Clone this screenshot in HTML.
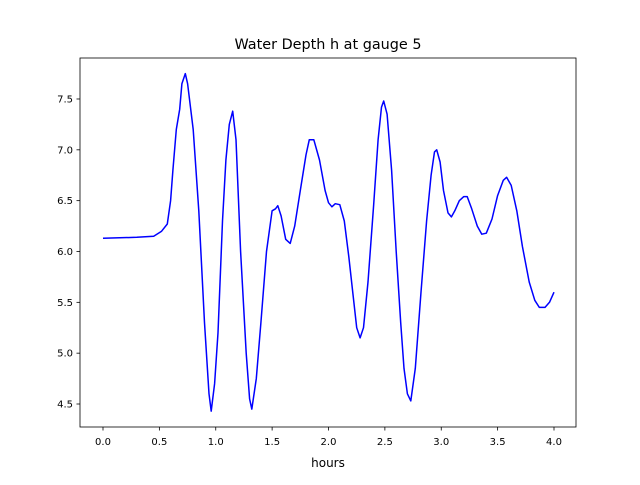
<!DOCTYPE html>
<html><head><meta charset="utf-8"><style>
body{margin:0;background:#fff;}
svg text{font-family:"DejaVu Sans","Liberation Sans",sans-serif;fill:#000;}
</style></head><body>
<svg width="640" height="480" viewBox="0 0 640 480">
<rect x="0" y="0" width="640" height="480" fill="#fff"/>
<text x="328" y="49" font-size="14.4" text-anchor="middle">Water Depth h at gauge 5</text>
<g id="ticks"></g>
<path id="line" fill="none" stroke="#0000ff" stroke-width="1.5" stroke-linejoin="round"/>
<rect x="80" y="58" width="496" height="369" fill="none" stroke="#000" stroke-width="0.8"/>
<text x="328" y="467" font-size="12" text-anchor="middle">hours</text>
</svg>
<script>
const hours=[0,0.3,0.45,0.52,0.57,0.6,0.62,0.65,0.68,0.7,0.73,0.75,0.8,0.85,0.9,0.94,0.96,0.99,1.02,1.06,1.09,1.12,1.15,1.18,1.22,1.27,1.3,1.32,1.36,1.4,1.45,1.5,1.53,1.55,1.58,1.62,1.66,1.7,1.75,1.8,1.83,1.87,1.92,1.97,2.0,2.03,2.06,2.1,2.14,2.18,2.22,2.25,2.28,2.31,2.35,2.4,2.44,2.47,2.49,2.52,2.56,2.6,2.64,2.67,2.7,2.73,2.77,2.82,2.87,2.91,2.94,2.96,2.99,3.02,3.06,3.09,3.12,3.16,3.2,3.23,3.27,3.32,3.36,3.4,3.45,3.5,3.55,3.58,3.62,3.67,3.72,3.78,3.83,3.87,3.92,3.96,4.0];
const depth=[6.13,6.14,6.15,6.2,6.27,6.5,6.8,7.2,7.4,7.65,7.75,7.65,7.2,6.4,5.3,4.6,4.43,4.7,5.2,6.3,6.9,7.25,7.38,7.1,6.0,5.0,4.55,4.45,4.75,5.3,6.0,6.4,6.42,6.45,6.35,6.12,6.08,6.25,6.6,6.95,7.1,7.1,6.9,6.6,6.48,6.44,6.47,6.46,6.3,5.95,5.55,5.25,5.15,5.25,5.7,6.45,7.1,7.42,7.48,7.35,6.8,6.0,5.3,4.85,4.6,4.53,4.85,5.6,6.3,6.75,6.98,7.0,6.88,6.6,6.38,6.34,6.4,6.5,6.54,6.54,6.42,6.25,6.17,6.18,6.32,6.55,6.7,6.73,6.65,6.4,6.05,5.7,5.52,5.45,5.45,5.5,5.6];
const xTicks=[0,0.5,1,1.5,2,2.5,3,3.5,4];
const xTickLabels=["0.0","0.5","1.0","1.5","2.0","2.5","3.0","3.5","4.0"];
const yTicks=[4.5,5,5.5,6,6.5,7,7.5];
const yTickLabels=["4.5","5.0","5.5","6.0","6.5","7.0","7.5"];
const X=v=>103+v*112.75;
const Y=v=>404-(v-4.5)*101.67;
const NS="http://www.w3.org/2000/svg";
const g=document.getElementById('ticks');
function mk(t,a){const e=document.createElementNS(NS,t);for(const k in a)e.setAttribute(k,a[k]);return e;}
xTicks.forEach((v,i)=>{
 const l=mk('line',{x1:X(v),x2:X(v),y1:427,y2:430.5,stroke:'#000','stroke-width':0.8});
 
 
 g.appendChild(l);
 const t=mk('text',{x:X(v),y:445,'font-size':10,'text-anchor':'middle'});
 t.textContent=xTickLabels[i];
 
 
 g.appendChild(t);
});
yTicks.forEach((v,i)=>{
 const l=mk('line',{x1:76.5,x2:80,y1:Y(v),y2:Y(v),stroke:'#000','stroke-width':0.8});
 
 
 g.appendChild(l);
 const t=mk('text',{x:73,y:Y(v)+3.5,'font-size':10,'text-anchor':'end'});
 t.textContent=yTickLabels[i];
 
 
 g.appendChild(t);
});
document.getElementById('line').setAttribute('d',hours.map((h,i)=>(i?'L':'M')+X(h).toFixed(1)+','+Y(depth[i]).toFixed(1)).join(''));
</script>
</body></html>
